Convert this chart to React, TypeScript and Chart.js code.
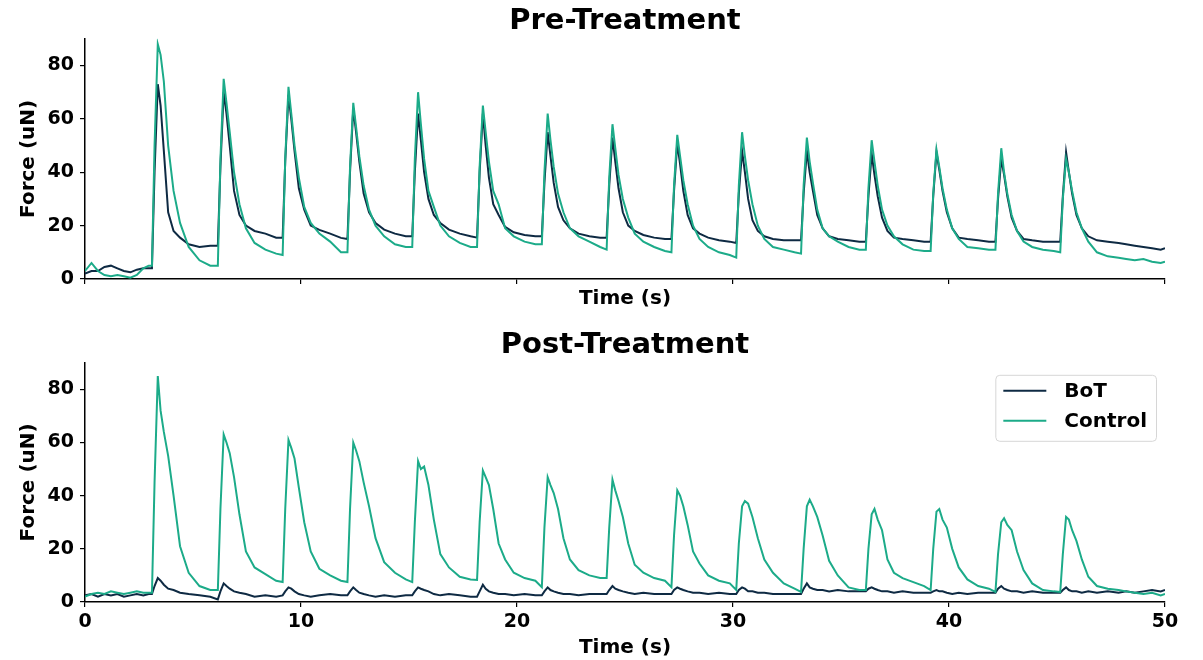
import React, { useEffect, useRef } from 'react';
import { Chart, registerables } from 'chart.js';

Chart.register(...registerables);

// ---------- data ----------
const seriesLabels = ['BoT', 'Control'];
const seriesColors = ['#0e2a43', '#1cab89'];
const xTickValues = [0, 10, 20, 30, 40, 50];
const yTickValues = [0, 20, 40, 60, 80];

// time samples (s)
const startTimes = [0, 0.3, 0.6, 0.9, 1.2, 1.5, 1.8, 2.1, 2.4, 2.7, 2.95];
const twitchOnsets = [3.1, 6.15, 9.15, 12.15, 15.15, 18.15, 21.15, 24.15, 27.15, 30.15, 33.15, 36.15, 39.15, 42.15, 45.15];
const twitchOffsets = [0, 0.12, 0.27, 0.4, 0.55, 0.75, 1.0, 1.3, 1.7, 2.2, 2.7];
const endTimes = [48.2, 48.6, 49.0, 49.4, 49.8, 50.0];

// Pre-Treatment, BoT (uN): start, 15 twitches, end
const preBoT = [
  [2, 3, 3, 4.5, 5, 4, 3, 2.5, 3.5, 4, 4],
  [4, 40, 73, 65, 48, 25, 18, 15.5, 13, 12, 12.5],
  [12.5, 42, 70, 62, 50, 33, 24, 20, 18, 17, 15.5],
  [15.5, 44, 69, 60, 48, 34, 26, 20, 18.4, 17, 15.4],
  [15, 40, 64, 55, 44, 32, 25, 21, 18.5, 17, 16],
  [16, 40, 62, 52, 40, 30, 24, 21, 18.5, 17, 16],
  [15.5, 40, 62, 50, 38, 28, 24, 19.5, 17.5, 16.5, 16],
  [16, 36, 55, 46, 36, 27, 22, 19, 17, 16, 15.5],
  [15.5, 35, 53, 44, 34, 25, 20, 18, 16.5, 15.5, 15],
  [15, 33, 51, 43, 33, 24, 19, 17, 15.5, 14.5, 14],
  [13.5, 32, 48, 40, 30, 22, 18, 16, 15, 14.5, 14.5],
  [14.5, 32, 48, 40, 33, 24, 19, 16, 15, 14.5, 14],
  [14, 31, 47, 39, 31, 23, 18, 15.5, 15, 14.5, 14],
  [14, 31, 47.5, 41, 33, 25, 19, 15.5, 15, 14.5, 14],
  [14, 30, 45, 39, 31, 23, 18, 15, 14.5, 14, 14],
  [14, 31, 47.5, 40, 32, 24, 19, 16, 14.5, 14, 13.5],
  [13, 12.5, 12, 11.5, 11, 11.5],
];

// Pre-Treatment, Control (uN)
const preControl = [
  [3, 6, 3, 1.5, 1, 1.5, 1, 0.5, 1.5, 4, 5],
  [5, 50, 88, 84, 74, 50, 33, 21, 12, 7, 5],
  [5, 45, 75, 66, 55, 40, 28, 19, 13.5, 11, 9.5],
  [9, 45, 72, 62, 50, 38, 27, 21, 17, 14, 10],
  [10, 42, 66, 57, 46, 35, 26, 20, 16, 13, 12],
  [12, 45, 70, 58, 45, 33, 27, 20, 16, 13.5, 12],
  [12, 42, 65, 55, 44, 33, 28, 19, 16, 14, 13],
  [13, 40, 62, 52, 42, 32, 25, 19, 16, 14, 12],
  [11, 38, 58, 49, 39, 30, 23, 17, 14, 12, 10.5],
  [10, 35, 54, 46, 37, 28, 20, 15, 12, 10, 9],
  [8, 35, 55, 46, 37, 28, 20, 15, 12, 11, 10],
  [9.5, 35, 53, 44, 36, 26, 19, 16, 14, 12, 11],
  [11, 34, 52, 44, 35, 26, 20, 16, 13, 11, 10.5],
  [10.5, 32, 48.5, 42, 34, 26, 19, 15, 12, 11.5, 11],
  [11, 32, 49, 40, 32, 24, 18, 14, 12, 11, 10.5],
  [10, 30, 45, 40, 33, 25, 19, 14, 10, 8.5, 8],
  [7.5, 7, 7.5, 6.5, 6, 6.5],
];

// Post-Treatment, BoT (uN)
const postBoT = [
  [2.5, 3, 2, 3, 2.5, 3, 2, 2.5, 3, 2.5, 3],
  [3, 6, 9, 8, 6.5, 5, 4.5, 3.5, 3, 2.5, 2],
  [1, 4, 7, 6, 5, 4, 3.5, 3, 2, 2.5, 2],
  [2.5, 4, 5.5, 5, 4, 3, 2.5, 2, 2.5, 3, 2.5],
  [2.5, 4, 5.5, 4.5, 3.5, 3, 2.5, 2, 2.5, 2, 2.5],
  [2.5, 4, 5.5, 5, 4.5, 4, 3, 2.5, 3, 2.5, 2],
  [2, 4, 6.5, 5, 4, 3.5, 3, 3, 2.5, 3, 2.5],
  [2.5, 4, 5.5, 4.5, 4, 3.5, 3, 3, 2.5, 3, 3],
  [3, 4.5, 6, 5, 4.5, 4, 3.5, 3, 3.5, 3, 3],
  [3, 4.5, 5.5, 5, 4.5, 4, 3.5, 3.5, 3, 3.5, 3],
  [3, 4.5, 5.5, 5, 4, 4, 3.5, 3.5, 3, 3, 3],
  [3, 5, 7, 5.5, 5, 4.5, 4.5, 4, 4.5, 4, 4],
  [4, 5, 5.5, 5, 4.5, 4, 4, 3.5, 4, 3.5, 3.5],
  [3.5, 4, 4.5, 4, 4, 3.5, 3, 3.5, 3, 3.5, 3.5],
  [3.5, 5, 6, 5, 4.5, 4, 4, 3.5, 4, 3.5, 3.5],
  [3.5, 4.5, 5.5, 4.5, 4, 4, 3.5, 4, 3.5, 4, 3.5],
  [4, 3.5, 4, 4.5, 4, 4.5],
];

// Post-Treatment, Control (uN)
const postControl = [
  [2, 3, 3.5, 3, 4, 3.5, 3, 3.5, 4, 3.5, 3.5],
  [3.5, 45, 85, 72, 64, 55, 40, 21, 11, 6, 4.5],
  [4.5, 35, 63, 60, 56, 47, 33, 19, 13, 10.5, 8],
  [7.5, 35, 61, 58, 54, 43, 30, 19, 12.5, 10, 8],
  [7.5, 35, 60, 57, 53, 45, 36, 24, 15, 11, 8.5],
  [7.5, 30, 53, 50, 51, 44, 31, 18, 13, 9.5, 8.5],
  [8.3, 30, 49.5, 47, 44, 35, 22, 16, 11, 9, 8],
  [5.6, 28, 47, 44, 41, 35, 24, 16, 12, 10, 9],
  [9, 28, 46, 42, 38, 32, 22, 14, 11, 9, 8],
  [5.6, 25, 42, 40, 36, 29, 19, 14.5, 10, 8, 7],
  [4.5, 22, 36, 38, 37, 32, 24, 16, 11, 7, 5],
  [3.8, 20, 36, 38.5, 36, 32, 25, 15.5, 10, 5.5, 4.5],
  [4.5, 20, 33, 35, 31, 27, 16, 11, 9, 7.5, 6],
  [4.5, 20, 34, 35, 31, 28, 20, 13, 8.5, 6, 5],
  [3.8, 18, 30, 31.5, 29, 27, 19, 12, 7, 4.5, 4],
  [3.8, 18, 32, 31, 27, 23, 16, 9.5, 6, 5, 4.5],
  [4, 3.5, 3, 3.5, 2.5, 3],
];

// ---------- helpers ----------
const FONT = '"DejaVu Sans", sans-serif';

function buildTimes(): number[] {
  const t: number[] = [...startTimes];
  twitchOnsets.forEach((on) => twitchOffsets.forEach((off) => t.push(Math.round((on + off) * 1000) / 1000)));
  return t.concat(endTimes);
}

function toPoints(rows: number[][]) {
  const times = buildTimes();
  const vals = rows.flat();
  return times.map((x, i) => ({ x, y: vals[i] }));
}

const boxLegend = {
  id: 'boxLegend',
  afterDraw(chart: any) {
    const opts = chart.options.plugins.boxLegend;
    if (!opts || !opts.display) return;
    const { ctx, chartArea } = chart;
    ctx.save();
    ctx.font = `bold 20px ${FONT}`;
    const textW = Math.max(...seriesLabels.map((l) => ctx.measureText(l).width));
    const w = 69 + textW + 9;
    const h = 66;
    const x = chartArea.right - 9 - w;
    const y = chartArea.top + 12;
    ctx.beginPath();
    (ctx as any).roundRect(x + 0.5, y + 0.5, w, h, 4);
    ctx.fillStyle = 'rgba(255,255,255,0.85)';
    ctx.fill();
    ctx.strokeStyle = '#d6d6d6';
    ctx.lineWidth = 1;
    ctx.stroke();
    seriesLabels.forEach((label, i) => {
      const cy = y + 16 + i * 30;
      ctx.beginPath();
      ctx.moveTo(x + 8, cy);
      ctx.lineTo(x + 51, cy);
      ctx.strokeStyle = seriesColors[i];
      ctx.lineWidth = 2;
      ctx.stroke();
      ctx.fillStyle = '#000';
      ctx.textBaseline = 'middle';
      ctx.textAlign = 'left';
      ctx.fillText(label, x + 69, cy + 1);
    });
    ctx.restore();
  },
};

function makeConfig(p: {
  title: string;
  bot: number[][];
  control: number[][];
  showXLabels: boolean;
  titlePad: { top: number; bottom: number };
  xHeight: number;
  xTitleBottom: number;
  legend: boolean;
}): any {
  const tickFont = { family: FONT, size: 19, weight: 'bold' as const };
  const labelFont = { family: FONT, size: 20, weight: 'bold' as const };
  return {
    type: 'line',
    data: {
      datasets: [
        {
          label: seriesLabels[1],
          data: toPoints(p.control),
          borderColor: seriesColors[1],
          backgroundColor: seriesColors[1],
          borderWidth: 2,
          pointRadius: 0,
          tension: 0,
          order: 0,
        },
        {
          label: seriesLabels[0],
          data: toPoints(p.bot),
          borderColor: seriesColors[0],
          backgroundColor: seriesColors[0],
          borderWidth: 2,
          pointRadius: 0,
          tension: 0,
          order: 1,
        },
      ],
    },
    options: {
      responsive: false,
      animation: false,
      events: [],
      layout: { padding: { left: 0, right: 38, top: 0, bottom: 0 } },
      scales: {
        x: {
          type: 'linear',
          min: 0,
          max: 50,
          afterBuildTicks: (s: any) => {
            s.ticks = xTickValues.map((v) => ({ value: v }));
          },
          afterFit: (s: any) => {
            s.height = p.xHeight;
          },
          ticks: { display: p.showXLabels, font: tickFont, color: '#000', padding: 4, maxRotation: 0, autoSkip: false },
          grid: { drawOnChartArea: false, drawTicks: true, tickLength: 5, color: '#000', lineWidth: 1.2 },
          border: { display: true, color: '#000', width: 1.5 },
          title: {
            display: true,
            text: 'Time (s)',
            font: labelFont,
            color: '#000',
            padding: { top: 0, bottom: p.xTitleBottom },
          },
        },
        y: {
          type: 'linear',
          min: 0,
          max: 90,
          afterBuildTicks: (s: any) => {
            s.ticks = yTickValues.map((v) => ({ value: v }));
          },
          afterFit: (s: any) => {
            s.width = 85;
          },
          ticks: { font: tickFont, color: '#000', padding: 6 },
          grid: { drawOnChartArea: false, drawTicks: true, tickLength: 5, color: '#000', lineWidth: 1.2 },
          border: { display: true, color: '#000', width: 1.5 },
          title: {
            display: true,
            text: 'Force (uN)',
            font: labelFont,
            color: '#000',
            padding: { top: 17, bottom: 0 },
          },
        },
      },
      plugins: {
        legend: { display: false },
        tooltip: { enabled: false },
        title: {
          display: true,
          fullSize: false,
          text: p.title,
          color: '#000',
          font: { family: FONT, size: 29, weight: 'bold' },
          padding: p.titlePad,
        },
        boxLegend: { display: p.legend },
      },
    },
    plugins: [boxLegend],
  };
}

function Panel(props: { height: number; top: number; config: any }) {
  const ref = useRef<HTMLCanvasElement | null>(null);
  useEffect(() => {
    if (!ref.current) return;
    const chart = new Chart(ref.current, props.config);
    return () => chart.destroy();
  }, []);
  return (
    <canvas
      ref={ref}
      width={1203}
      height={props.height}
      style={{ position: 'absolute', left: 0, top: props.top, width: 1203, height: props.height, display: 'block' }}
    />
  );
}

export default function App() {
  const preConfig = makeConfig({
    title: 'Pre-Treatment',
    bot: preBoT,
    control: preControl,
    showXLabels: false,
    titlePad: { top: 4, bottom: 0 },
    xHeight: 41,
    xTitleBottom: 9,
    legend: false,
  });
  const postConfig = makeConfig({
    title: 'Post-Treatment',
    bot: postBoT,
    control: postControl,
    showXLabels: true,
    titlePad: { top: 8, bottom: 0 },
    xHeight: 58,
    xTitleBottom: 0,
    legend: true,
  });
  return (
    <div style={{ position: 'fixed', left: 0, top: 0, width: 1203, height: 660, background: '#fff', overflow: 'hidden' }}>
      <Panel height={320} top={0} config={preConfig} />
      <Panel height={340} top={320} config={postConfig} />
    </div>
  );
}
